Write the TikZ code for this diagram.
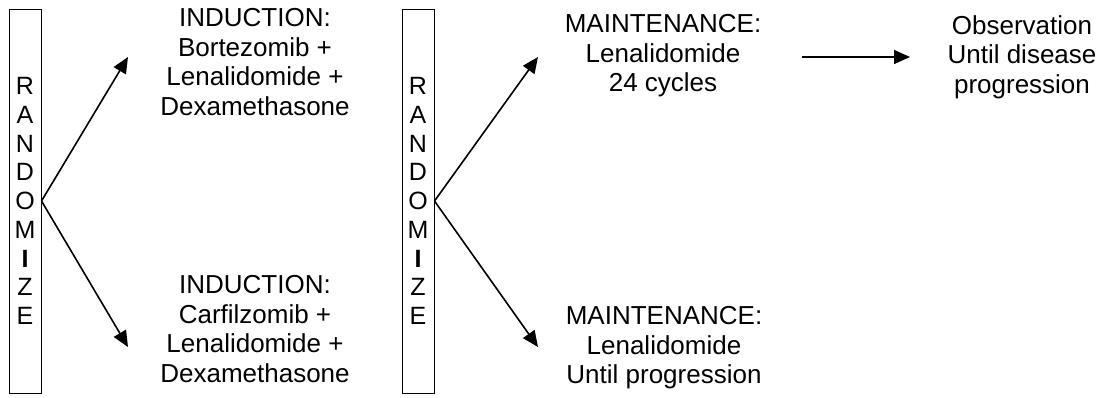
\documentclass[tikz,border=0pt]{standalone}
\usepackage{fontspec}
\setmainfont{Liberation Sans}
\usetikzlibrary{arrows.meta,positioning}

\begin{document}
\begin{tikzpicture}[x=0.5pt,y=-0.5pt,>={Triangle[length=8pt,width=7pt]},
    arm/.style={align=center,inner sep=0pt,font=\fontsize{13}{14.75}\selectfont},
    randbox/.style={draw,line width=0.5pt,minimum width=16pt,minimum height=192pt,
      inner sep=0pt,align=center,font=\fontsize{12.5}{14.35}\selectfont}]
      \useasboundingbox (0,0) rectangle (1099,397);
      \node[randbox] (rand1) at (25,201) {R\\A\\N\\D\\O\\M\\\textbf{I}\\Z\\E};
      \node[randbox] (rand2) at (418,201) {R\\A\\N\\D\\O\\M\\\textbf{I}\\Z\\E};
      \node[arm] (indBRd) at (255,62) {INDUCTION:\\Bortezomib +\\Lenalidomide +\\Dexamethasone};
      \node[arm] (indKRd) at (255,329) {INDUCTION:\\Carfilzomib +\\Lenalidomide +\\Dexamethasone};
      \node[arm] (maintFix) at (663,56) {MAINTENANCE:\\Lenalidomide\\24 cycles};
      \node[arm] (maintCont) at (664,348) {MAINTENANCE:\\Lenalidomide\\Until progression};
      \node[arm] (obs) at (1022,57) {Observation\\Until disease\\progression};
      \coordinate (tipA) at (128,57);
      \coordinate (tipB) at (128,347);
      \coordinate (tipC) at (538,57);
      \coordinate (tipD) at (538,347);
      \coordinate (obsStart) at (802,57);
      \coordinate (obsEnd) at (910,57);
      \path[->,line width=0.8pt] (rand1.east) edge (tipA);
      \path[->,line width=0.8pt] (rand1.east) edge (tipB);
      \path[->,line width=0.8pt] (rand2.east) edge (tipC);
      \path[->,line width=0.8pt] (rand2.east) edge (tipD);
      \path[->,line width=0.8pt] (obsStart) edge (obsEnd);
    \end{tikzpicture}
\end{document}
